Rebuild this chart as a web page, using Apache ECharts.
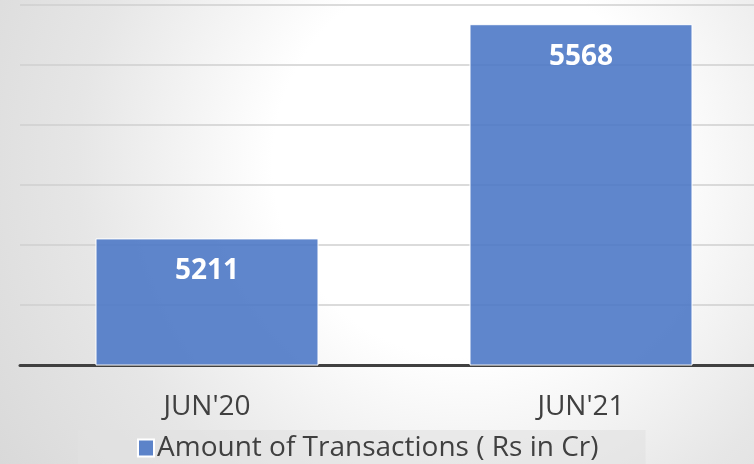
<!DOCTYPE html>
<html lang="en">
  <head>
    <meta charset="UTF-8" />
    <title>Amount of Transactions</title>
    <style>
      html, body { margin: 0; padding: 0; }
      #main {
        width: 754px;
        height: 464px;
        background: radial-gradient(circle at 62% 35%, #ffffff 0%, #ffffff 35%, #e6e6e6 70%, #d9d9d9 100%);
      }
    </style>
  </head>
  <body>
    <script src="https://cdn.jsdelivr.net/npm/echarts@6/dist/echarts.min.js"></script>
    <div id="main"></div>
    <script>
      const categories = ["JUN'20", "JUN'21"]
      const amounts = [5211, 5568]
      const seriesName = 'Amount of Transactions ( Rs in Cr)'
      const font = "'Open Sans', sans-serif"

      const chart = echarts.init(document.getElementById('main'))
      chart.setOption({
        backgroundColor: 'transparent',
        animation: false,
        grid: { left: 20, width: 748, top: 5, bottom: 99, outerBoundsMode: 'none' },
        xAxis: {
          type: 'category',
          data: categories,
          axisTick: { show: false },
          axisLine: { lineStyle: { color: '#404040', width: 3 } },
          axisLabel: { color: '#404040', fontSize: 28, fontFamily: font, margin: 28 }
        },
        yAxis: {
          type: 'value',
          min: 5000,
          max: 5600,
          interval: 100,
          axisLabel: { show: false },
          axisLine: { show: false },
          axisTick: { show: false },
          splitLine: { lineStyle: { color: '#cfcfcf', width: 1.5 } }
        },
        legend: {
          bottom: 0,
          left: 78,
          padding: [4, 47, 2, 59],
          backgroundColor: 'rgba(225,225,225,0.6)',
          itemWidth: 16,
          itemHeight: 17,
          itemGap: 6,
          icon: 'rect',
          textStyle: { color: '#404040', fontSize: 28, fontFamily: font, padding: [0, 0, 0, -2] },
          data: [seriesName]
        },
        series: [
          {
            name: seriesName,
            type: 'bar',
            data: amounts,
            barWidth: 223,
            itemStyle: { color: 'rgba(78,121,199,0.9)', borderColor: '#ffffff', borderWidth: 1 },
            label: {
              show: true,
              position: 'insideTop',
              distance: 19,
              color: '#ffffff',
              fontWeight: 'bold',
              fontSize: 28,
              fontFamily: font
            }
          }
        ]
      })
    </script>
  </body>
</html>
